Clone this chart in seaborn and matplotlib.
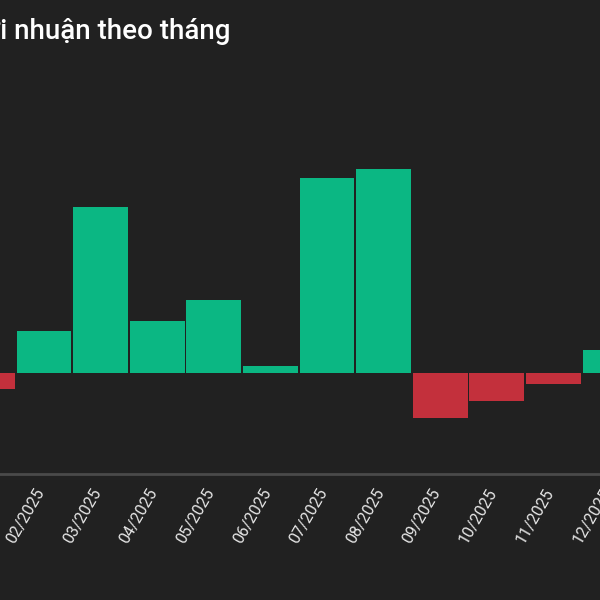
import matplotlib
matplotlib.use("Agg")
import matplotlib.pyplot as plt
import matplotlib.transforms as mtransforms
import seaborn as sns
import pandas as pd

months = ["01/2025", "02/2025", "03/2025", "04/2025", "05/2025", "06/2025",
          "07/2025", "08/2025", "09/2025", "10/2025", "11/2025", "12/2025"]
profit = [-16, 42, 166, 52, 73, 7, 195, 204, -45, -28, -11, 23]
title = "Lợi nhuận theo tháng"

BG = "#212121"
GREEN = "#0BB783"
RED = "#C3303C"

sns.set_theme(style="dark")
plt.rcParams["font.family"] = ["Roboto", "DejaVu Sans"]

df = pd.DataFrame({"month": months, "profit": profit})
colors = [GREEN if v >= 0 else RED for v in profit]

fig = plt.figure(figsize=(6, 6), dpi=100, facecolor=BG)
ax = fig.add_axes([-0.087, 0.21, 1.1697, 0.69])
ax.set_facecolor(BG)
sns.barplot(data=df, x="month", y="profit", hue="month", palette=colors,
            legend=False, width=0.97, saturation=1, linewidth=0, ax=ax)

ax.set_xlim(-0.7, 11.7)
ax.set_ylim(-101, 313)
ax.set_xlabel("")
ax.set_ylabel("")
ax.set_yticks([])
ax.grid(False)
for s in ["top", "right", "left"]:
    ax.spines[s].set_visible(False)
ax.spines["bottom"].set_visible(True)
ax.spines["bottom"].set_color("#4a4a4a")
ax.spines["bottom"].set_linewidth(2)
ax.tick_params(axis="x", colors="#e6e6e6", labelsize=11.5, length=0, pad=11)
offset = mtransforms.ScaledTranslation(-3 / 100, 0, fig.dpi_scale_trans)
for lbl in ax.get_xticklabels():
    lbl.set_rotation(60)
    lbl.set_ha("right")
    lbl.set_va("center")
    lbl.set_rotation_mode("anchor")
    lbl.set_color("#e6e6e6")
    lbl.set_transform(lbl.get_transform() + offset)

fig.text(-0.051, 0.948, title, color="white", fontsize=20, fontweight=500,
         ha="left", va="center")

fig.savefig("out.png", dpi=100, facecolor=BG)
